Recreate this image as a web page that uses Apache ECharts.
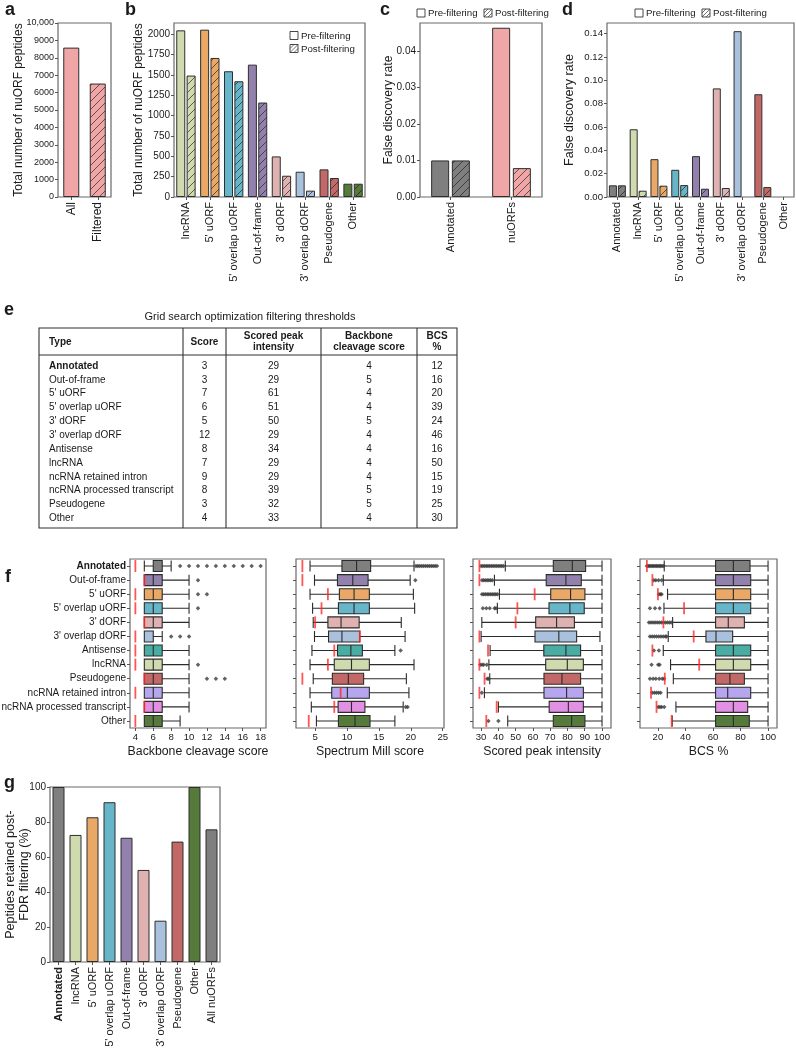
<!DOCTYPE html>
<html><head><meta charset="utf-8">
<script src="https://cdn.jsdelivr.net/npm/echarts@6/dist/echarts.min.js"></script>
<style>html,body{margin:0;padding:0;background:#fff}#c{width:796px;height:1050px}</style>
</head><body><div id="c"></div>
<script>
// ---------------- DATA ----------------
// panel a
const aCats = ['All', 'Filtered'];
const aValues = [8585, 6520];
const aHatched = [false, true];
// panel b
const bCats = ['lncRNA', "5' uORF", "5' overlap uORF", 'Out-of-frame', "3' dORF", "3' overlap dORF", 'Pseudogene', 'Other'];
const bPre = [2045, 2053, 1543, 1624, 498, 310, 339, 163];
const bPost = [1490, 1706, 1420, 1159, 261, 78, 233, 163];
const bTicks = [0, 250, 500, 750, 1000, 1250, 1500, 1750, 2000];
// panel c
const cCats = ['Annotated', 'nuORFs'];
const cPre = [0.0100, 0.0463];
const cPost = [0.0100, 0.0079];
const cTicks = [0, 0.01, 0.02, 0.03, 0.04];
// panel d
const dCats = ['Annotated', 'lncRNA', "5' uORF", "5' overlap uORF", 'Out-of-frame', "3' dORF", "3' overlap dORF", 'Pseudogene', 'Other'];
const dPre = [0.0100, 0.0580, 0.0324, 0.0233, 0.0350, 0.0930, 0.1420, 0.0880, 0];
const dPost = [0.0100, 0.0054, 0.0097, 0.0102, 0.0071, 0.0077, 0, 0.0085, 0];
const dTicks = [0, 0.02, 0.04, 0.06, 0.08, 0.10, 0.12, 0.14];
// panel e (table)
const tTitle = 'Grid search optimization filtering thresholds';
const tTypes = ['Annotated', 'Out-of-frame', "5' uORF", "5' overlap uORF", "3' dORF", "3' overlap dORF", 'Antisense', 'lncRNA', 'ncRNA retained intron', 'ncRNA processed transcript', 'Pseudogene', 'Other'];
const tScore = [3, 3, 7, 6, 5, 12, 8, 7, 9, 8, 3, 4];
const tPeak = [29, 29, 61, 51, 50, 29, 34, 29, 29, 39, 32, 33];
const tBackbone = [4, 5, 4, 4, 5, 4, 4, 4, 4, 5, 5, 4];
const tBcsPct = [12, 16, 20, 39, 24, 46, 16, 50, 15, 19, 25, 30];
// panel f (boxplots: [min, Q1, median, Q3, max])
const fCats = ['Annotated', 'Out-of-frame', "5' uORF", "5' overlap uORF", "3' dORF", "3' overlap dORF", 'Antisense', 'lncRNA', 'Pseudogene', 'ncRNA retained intron', 'ncRNA processed transcript', 'Other'];
const f1Box = [[5,6,6,7,8],[5,5,6,7,10],[5,5,6,7,10],[5,5,6,7,10],[5,5,6,7,10],[5,5,5,6,7],[5,5,6,7,10],[5,5,6,7,10],[5,5,6,7,10],[5,5,6,7,10],[5,5,6,7,10],[5,5,6,7,9]];
const f1Out = [[9,10,11,12,13,14,15,16,17,18],[11],[11,12],[11],[],[8,9,10],[],[11],[12,13,14],[],[],[]];
const f2Box = [[4.2,9.2,11.5,13.7,20.5],[4.9,8.5,10.9,13.3,19.9],[4.2,8.8,11.1,13.5,20.4],[4.6,8.65,11.1,13.5,20.6],[4.7,7.0,9.06,11.9,18.5],[4.9,7.1,9.2,12.0,19.1],[4.5,8.5,10.6,12.4,17.5],[4.2,8.0,10.7,13.5,20.5],[4.7,7.7,10.2,12.6,19.3],[4.2,7.6,10.05,13.5,19.7],[4.4,8.6,10.7,12.8,18.8],[5.2,8.65,11.25,13.6,17.5]];
const f2Out = [[20.8,21.1,21.4,21.7,22.0,22.3,22.6,22.9,23.2,23.5,23.8,24.1],[20.7],[],[],[],[],[18.4],[],[],[],[19.2,19.5],[]];
const f3Box = [[44,71.8,82.8,90.5,100],[37.7,67.7,79.1,88,100],[40.6,70.3,81.8,90.1,100],[39.4,69.3,81.4,89.7,100],[30.4,61.6,73.7,84,100],[30,61.2,75,85.3,98.8],[35.2,66.3,79.1,87.6,100],[34.5,67.4,79.9,89.2,100],[35,66.4,76.8,87.6,100],[31.9,66.4,79.5,89.2,100],[40,69.4,80.5,89.2,100],[45.4,71.8,82.4,90.1,100]];
const f3Out = [[30,31,32,33,34,35,36,37,38,39,40,41,42,43],[30.5,31.5,32.5,33.5,34.5,35.5,36.5],[30.5,31.5,32.5,33.5,34.5,35.5,36.5,37.5,38.5,39.5],[31,33,35,37.8,38.6],[],[],[],[29.5,30.5,31.5,33.3],[33.5,34.3],[30.4],[],[34.2,40]];
const f4Box = [[24.6,61.9,74.8,86.9,100],[23.9,61.9,74.8,87.4,100],[27,61.9,74.8,87.4,100],[24.4,61.9,74.8,87.4,100],[30.7,61.9,71.1,82.8,100],[27.5,54.9,62.2,74.3,100],[23.9,61.9,74.8,87.4,100],[29.2,61.9,74.8,87.4,100],[31.2,61.9,72.3,82.8,100],[26.8,61.9,70.7,87.4,100],[33.1,61.9,74.8,85.2,100],[30.4,61.9,74.8,86.4,100]];
const f4Out = [[12,13,14,15,16,17,18,19,20,21,22,23,24],[17,18.5,20.5,22.7],[20.7,21.7,22.7],[14.2,17.9,21.3],[13.5,15,16.5,18,19.5,21,22.5,24,25.5,27,28.5,29.9],[14.2,15.8,17.4,19,20.6,22.2,23.8,25.4,26.3],[17.1,20.7],[15.4,20.2,21.2],[14.2,16.5,18.5,21,23.2,24.5],[15.9,17.5,19,20.5,22],[20.2,21.5,22.7,24.6],[]];
const f1Ticks = [4, 6, 8, 10, 12, 14, 16, 18];
const f2Ticks = [5, 10, 15, 20, 25];
const f3Ticks = [30, 40, 50, 60, 70, 80, 90, 100];
const f4Ticks = [20, 40, 60, 80, 100];
// panel g
const gCats = ['Annotated', 'lncRNA', "5' uORF", "5' overlap uORF", 'Out-of-frame', "3' dORF", "3' overlap dORF", 'Pseudogene', 'Other', 'All nuORFs'];
const gValues = [100, 72.6, 82.7, 91.3, 71, 52.6, 23.6, 68.8, 100, 75.8];

// ---------------- STYLE ----------------
const FONT = "'Liberation Sans', Arial, Helvetica, sans-serif";
const TXT = '#1a1a1a';
const typeColor = {
  'Annotated': '#7f7f7f', 'Out-of-frame': '#9381ad', "5' uORF": '#eaa866', "5' overlap uORF": '#66b5c8',
  "3' dORF": '#dfb1b1', "3' overlap dORF": '#aac1dd', 'Antisense': '#4aada4', 'lncRNA': '#cfdaae',
  'Pseudogene': '#c26968', 'ncRNA retained intron': '#b5a6ee', 'ncRNA processed transcript': '#e190e3',
  'Other': '#557a3b', 'All nuORFs': '#7f7f7f', 'nuORFs': '#f0a6a6', 'All': '#f0a6a6', 'Filtered': '#f0a6a6'
};
function hatch(color, size) {
  size = size || 8;
  const cv = document.createElement('canvas');
  cv.width = size; cv.height = size;
  const ctx = cv.getContext('2d');
  ctx.fillStyle = color; ctx.fillRect(0, 0, size, size);
  ctx.strokeStyle = 'rgba(25,25,25,0.8)'; ctx.lineWidth = 0.8;
  ctx.beginPath();
  ctx.moveTo(0, size); ctx.lineTo(size, 0);
  ctx.moveTo(-1, 1); ctx.lineTo(1, -1);
  ctx.moveTo(size - 1, size + 1); ctx.lineTo(size + 1, size - 1);
  ctx.stroke();
  return { image: cv, repeat: 'repeat' };
}
function gridOf(l, t, w, h) {
  return { left: l, top: t, width: w, height: h, show: true, borderColor: '#6a6a6a', borderWidth: 1.2,
    backgroundColor: 'rgba(0,0,0,0)', containLabel: false, outerBoundsMode: 'none' };
}
const tickStyle = { show: true, length: 3, lineStyle: { color: '#555', width: 1 } };
function catX(gi, data, labelSize, extraLabel) {
  return { type: 'category', gridIndex: gi, data: data, axisLine: { show: false },
    axisTick: Object.assign({ alignWithLabel: true }, tickStyle),
    axisLabel: Object.assign({ rotate: 90, fontSize: labelSize || 11, color: TXT, fontFamily: FONT, margin: 5, interval: 0 }, extraLabel || {}),
    splitLine: { show: false } };
}
function valAxis(gi, min, max, ticks, fmt, name, nameGap, nameSize, labelSize) {
  return { type: 'value', gridIndex: gi, min: min, max: max, axisLine: { show: false },
    axisTick: Object.assign(ticks ? { customValues: ticks } : {}, tickStyle),
    axisLabel: Object.assign(ticks ? { customValues: ticks } : {}, { fontSize: labelSize || 10, color: TXT, fontFamily: FONT, margin: 4, formatter: fmt || (v => String(v)) }),
    splitLine: { show: false }, name: name, nameLocation: 'middle', nameGap: nameGap, nameMoveOverlap: false,
    nameTextStyle: { fontSize: nameSize || 12, color: TXT, fontFamily: FONT, lineHeight: 14 } };
}
const barBorder = { borderColor: '#2e2e2e', borderWidth: 1 };

const grids = [
  gridOf(58, 23, 53, 174),   // 0 a
  gridOf(174, 23, 191, 174), // 1 b
  gridOf(420, 23, 122, 174), // 2 c
  gridOf(607, 23, 187, 174), // 3 d
  gridOf(130, 559, 136, 169),// 4 f1
  gridOf(296, 559, 148, 169),// 5 f2
  gridOf(473, 559, 138, 169),// 6 f3
  gridOf(640, 559, 137, 169),// 7 f4
  gridOf(50, 787, 170, 175)  // 8 g
];

const boldFmt = v => (v === 'Annotated' ? '{b|' + v + '}' : v);
const richOf = size => ({ b: { fontWeight: 'bold', fontSize: size, color: TXT, fontFamily: FONT } });

const xAxes = [
  catX(0, aCats, 12),
  catX(1, bCats, 11),
  catX(2, cCats, 11),
  catX(3, dCats, 11),
  valAxis(4, 3.4, 18.6, f1Ticks, null, 'Backbone cleavage score', 17, 12.3, 9.6),
  valAxis(5, 2, 25.2, f2Ticks, null, 'Spectrum Mill score', 17, 12.3, 9.6),
  valAxis(6, 25.3, 105.2, f3Ticks, null, 'Scored peak intensity', 17, 12.3, 9.6),
  valAxis(7, 7, 106.5, f4Ticks, null, 'BCS %', 17, 12.3, 9.6),
  catX(8, gCats, 11, { formatter: boldFmt, rich: richOf(11) })
];
const fCatY = (gi, showLabels) => ({
  type: 'category', gridIndex: gi, data: fCats, inverse: true, axisLine: { show: false },
  axisTick: Object.assign({ alignWithLabel: true }, tickStyle),
  axisLabel: { show: showLabels, fontSize: 10, color: TXT, fontFamily: FONT, margin: 4, interval: 0, formatter: boldFmt, rich: richOf(10) },
  splitLine: { show: false }
});
const yAxes = [
  valAxis(0, 0, 10000, null, v => (v >= 10000 ? '10,000' : String(v)), 'Total number of nuORF peptides', 32, 12, 9),
  valAxis(1, 0, 2135, bTicks, null, 'Total number of nuORF peptides', 28, 12, 10),
  valAxis(2, 0, 0.0476, cTicks, v => v.toFixed(2), 'False discovery rate', 24, 12.2, 10),
  valAxis(3, 0, 0.149, dTicks, v => v.toFixed(2), 'False discovery rate', 30, 12.5, 9.6),
  fCatY(4, true), fCatY(5, false), fCatY(6, false), fCatY(7, false),
  valAxis(8, 0, 100, null, null, 'Peptides retained post-\nFDR filtering (%)', 18, 12.5, 10)
];
yAxes[0].interval = 1000;
yAxes[8].interval = 20;

const series = [];
// a
series.push({ type: 'bar', xAxisIndex: 0, yAxisIndex: 0, barWidth: 16, itemStyle: barBorder,
  data: aValues.map((v, i) => ({ value: v, itemStyle: { color: aHatched[i] ? hatch(typeColor[aCats[i]]) : typeColor[aCats[i]] } })) });
// b
series.push({ type: 'bar', xAxisIndex: 1, yAxisIndex: 1, barWidth: 9, barGap: '15%', itemStyle: barBorder,
  data: bPre.map((v, i) => ({ value: v, itemStyle: { color: typeColor[bCats[i]] } })) });
series.push({ type: 'bar', xAxisIndex: 1, yAxisIndex: 1, barWidth: 9, barGap: '15%', itemStyle: barBorder,
  data: bPost.map((v, i) => ({ value: v, itemStyle: { color: hatch(typeColor[bCats[i]]) } })) });
// c
series.push({ type: 'bar', xAxisIndex: 2, yAxisIndex: 2, barWidth: 18, barGap: '15%', itemStyle: barBorder,
  data: cPre.map((v, i) => ({ value: v, itemStyle: { color: typeColor[cCats[i]] } })) });
series.push({ type: 'bar', xAxisIndex: 2, yAxisIndex: 2, barWidth: 18, barGap: '15%', itemStyle: barBorder,
  data: cPost.map((v, i) => ({ value: v, itemStyle: { color: hatch(typeColor[cCats[i]]) } })) });
// d
series.push({ type: 'bar', xAxisIndex: 3, yAxisIndex: 3, barWidth: 8, barGap: '12%', itemStyle: barBorder,
  data: dPre.map((v, i) => ({ value: v, itemStyle: { color: typeColor[dCats[i]], borderWidth: v > 0 ? 1 : 0 } })) });
series.push({ type: 'bar', xAxisIndex: 3, yAxisIndex: 3, barWidth: 8, barGap: '12%', itemStyle: barBorder,
  data: dPost.map((v, i) => ({ value: v, itemStyle: { color: hatch(typeColor[dCats[i]]), borderWidth: v > 0 ? 1 : 0 } })) });
// f
const fPanels = [
  { box: f1Box, out: f1Out, thr: tBackbone },
  { box: f2Box, out: f2Out, thr: tScore },
  { box: f3Box, out: f3Out, thr: tPeak },
  { box: f4Box, out: f4Out, thr: tBcsPct }
];
fPanels.forEach((p, k) => {
  const ai = 4 + k;
  series.push({ type: 'boxplot', xAxisIndex: ai, yAxisIndex: ai, boxWidth: [11, 11], z: 2,
    itemStyle: { borderColor: '#2b2b2b', borderWidth: 1.1 },
    data: p.box.map((b, i) => ({ value: b, itemStyle: { color: typeColor[fCats[i]] } })) });
  const pts = [];
  p.out.forEach((arr, i) => arr.forEach(v => pts.push([v, fCats[i]])));
  series.push({ type: 'scatter', xAxisIndex: ai, yAxisIndex: ai, symbol: 'diamond', symbolSize: 4.5, z: 3,
    itemStyle: { color: '#3a3a3a' }, data: pts });
  series.push({ type: 'scatter', xAxisIndex: ai, yAxisIndex: ai, symbol: 'rect', symbolSize: [1.8, 12], z: 5,
    itemStyle: { color: '#ff2a2a' }, data: fCats.map(c => [p.thr[tTypes.indexOf(c)], c]) });
});
// g
series.push({ type: 'bar', xAxisIndex: 8, yAxisIndex: 8, barWidth: 12, itemStyle: barBorder,
  data: gValues.map((v, i) => ({ value: v, itemStyle: { color: typeColor[gCats[i]] } })) });

// ---------------- GRAPHICS (letters, legends, table) ----------------
const G = [];
function gText(x, y, text, o) {
  G.push({ type: 'text', x: x, y: y, silent: true, z: 10,
    style: Object.assign({ text: text, fill: TXT, font: '10px ' + FONT, align: 'left', verticalAlign: 'middle' }, o || {}) });
}
function gLine(x1, y1, x2, y2, c, w) {
  G.push({ type: 'line', silent: true, z: 10, shape: { x1: x1, y1: y1, x2: x2, y2: y2 }, style: { stroke: c || '#333', lineWidth: w || 1 } });
}
function gRect(x, y, w, h, fill, stroke, lw) {
  G.push({ type: 'rect', silent: true, z: 10, shape: { x: x, y: y, width: w, height: h }, style: { fill: fill, stroke: stroke, lineWidth: lw || 1 } });
}
function legendItem(x, y, label, hatched) {
  const s = 8;
  gRect(x, y - s / 2, s, s, '#fff', '#333', 0.9);
  if (hatched) {
    gLine(x, y + s / 2, x + s, y - s / 2, '#333', 0.7);
    gLine(x, y, x + s / 2, y - s / 2, '#333', 0.7);
    gLine(x + s / 2, y + s / 2, x + s, y, '#333', 0.7);
  }
  gText(x + s + 3, y + 0.5, label, { font: '9.7px ' + FONT });
}
// panel letters
const letterFont = 'bold 18px ' + FONT;
[['a', 5, 19], ['b', 125, 19], ['c', 380, 19], ['d', 562, 19], ['e', 4, 319], ['f', 5, 586], ['g', 4, 792]].forEach(l =>
  gText(l[1], l[2], l[0], { font: letterFont, verticalAlign: 'bottom' }));
// legends
legendItem(290, 35.5, 'Pre-filtering', false);
legendItem(290, 48.5, 'Post-filtering', true);
legendItem(417, 13, 'Pre-filtering', false);
legendItem(484, 13, 'Post-filtering', true);
legendItem(635, 13, 'Pre-filtering', false);
legendItem(702, 13, 'Post-filtering', true);
// table
const tbl = { left: 39, right: 457, top: 328, head: 355, bottom: 528, cols: [183, 226, 321, 417], row0: 366, step: 13.85 };
gText(250, 317, tTitle, { font: '11px ' + FONT, align: 'center' });
gRect(tbl.left, tbl.top, tbl.right - tbl.left, tbl.bottom - tbl.top, 'none', '#333', 1.1);
gLine(tbl.left, tbl.head, tbl.right, tbl.head, '#333', 1.1);
tbl.cols.forEach(x => gLine(x, tbl.top, x, tbl.bottom, '#333', 1.1));
const colCenters = [(tbl.cols[0] + tbl.cols[1]) / 2, (tbl.cols[1] + tbl.cols[2]) / 2, (tbl.cols[2] + tbl.cols[3]) / 2, (tbl.cols[3] + tbl.right) / 2];
const hb = 'bold 10px ' + FONT;
gText(49, 342, 'Type', { font: hb });
gText(colCenters[0], 342, 'Score', { font: hb, align: 'center' });
gText(colCenters[1], 341.5, 'Scored peak\nintensity', { font: hb, align: 'center', lineHeight: 10.5 });
gText(colCenters[2], 341.5, 'Backbone\ncleavage score', { font: hb, align: 'center', lineHeight: 10.5 });
gText(colCenters[3], 341.5, 'BCS\n%', { font: hb, align: 'center', lineHeight: 10.5 });
tTypes.forEach((t, i) => {
  const y = tbl.row0 + i * tbl.step;
  gText(49, y, t, { font: (t === 'Annotated' ? 'bold ' : '') + '10px ' + FONT });
  [tScore[i], tPeak[i], tBackbone[i], tBcsPct[i]].forEach((v, j) =>
    gText(colCenters[j], y, String(v), { font: '10px ' + FONT, align: 'center' }));
});

const chart = echarts.init(document.getElementById('c'), null, { renderer: 'canvas', width: 796, height: 1050 });
chart.setOption({
  animation: false,
  backgroundColor: '#ffffff',
  textStyle: { fontFamily: FONT },
  grid: grids, xAxis: xAxes, yAxis: yAxes, series: series, graphic: G
});
</script></body></html>
